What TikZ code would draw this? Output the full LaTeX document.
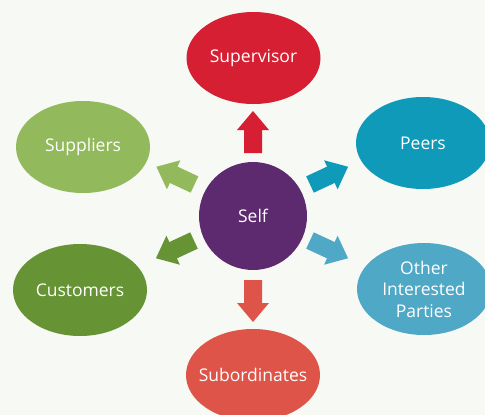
\documentclass[tikz,border=0pt]{standalone}
\usepackage{fontspec}
\setmainfont{Open Sans}
\usetikzlibrary{calc}
\definecolor{bgc}{HTML}{F7F9F5}
\definecolor{csup}{HTML}{D61F33}
\definecolor{cpeer}{HTML}{0E9AB8}
\definecolor{csupl}{HTML}{92B95B}
\definecolor{cself}{HTML}{5D296F}
\definecolor{ccust}{HTML}{669435}
\definecolor{cother}{HTML}{4EA8C6}
\definecolor{csub}{HTML}{DE5448}
\tikzset{
  x=1pt, y=-1pt,
  bubbletext/.style={inner sep=0pt, text=white,
     font=\fontsize{17.5}{21.5}\selectfont, align=center},
  pics/bubble/.style={code={
     \fill (0,0) ellipse [x radius=67, y radius=46];
  }},
  pics/blockarrow/.style={code={
     \fill (0,-9) -- (23,-9) -- (23,-16) -- (42,0) -- (23,16) -- (23,9) -- (0,9) -- cycle;
  }}
}
\begin{document}
\begin{tikzpicture}
\fill[bgc] (0,0) rectangle (485,415);
\useasboundingbox (0,0) rectangle (485,415);
\begin{scope}
\clip (0,0) rectangle (485,415);
\pic[csup]   at (253.5,58) {bubble};
\pic[cpeer]  at (423,143)  {bubble};
\pic[csupl]  at (83,147)   {bubble};
\pic[ccust]  at (80,290)   {bubble};
\pic[cother] at (424,289)  {bubble};
\pic[csub]   at (253,375)  {bubble};
\fill[cself] (253,216) circle [radius=54];
\end{scope}
\node[bubbletext] (sup)   at (253.5,58) {Supervisor};
\node[bubbletext] (peer)  at (423,143)  {Peers};
\node[bubbletext] (supl)  at (83,147)   {Suppliers};
\node[bubbletext] (cust)  at (80,290)   {Customers};
\node[bubbletext] (other) at (424,289)  {Other\\Interested\\Parties};
\node[bubbletext] (sub)   at (253,375)  {Subordinates};
\node[bubbletext] (self)  at (253,216)  {Self};
\pic[csup, rotate=90]     at ($(self)+(0,-63)$) {blockarrow};
\pic[csub, rotate=-90]    at ($(self)+(0,64)$)  {blockarrow};
\pic[csupl, rotate=155]   at ($(self)+(-58.5,-31.5)$) {blockarrow};
\pic[cpeer, rotate=25]    at ($(self)+(57,-31.5)$)  {blockarrow};
\pic[ccust, rotate=-155]  at ($(self)+(-59,24.5)$)  {blockarrow};
\pic[cother, rotate=-25]  at ($(self)+(57,24.5)$)   {blockarrow};
\end{tikzpicture}
\end{document}
